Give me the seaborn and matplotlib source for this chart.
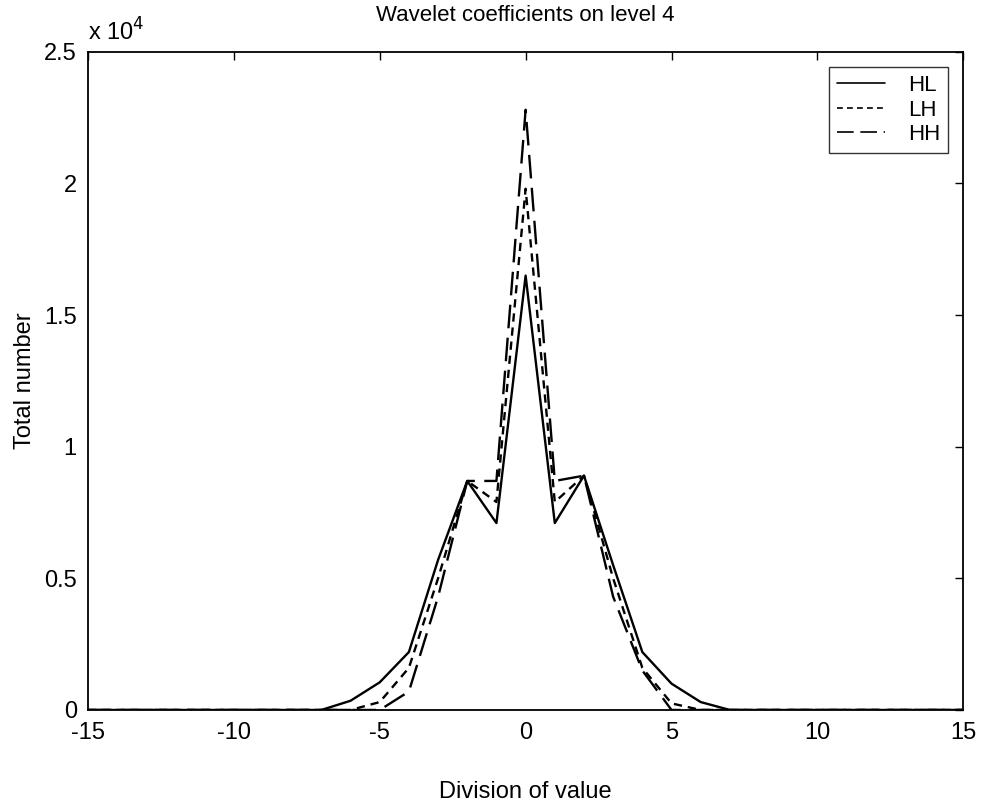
import numpy as np
import pandas as pd
import seaborn as sns
import matplotlib
matplotlib.use("Agg")
import matplotlib.pyplot as plt

sns.set_theme(style="white")
plt.rcParams['font.family'] = ['Liberation Sans', 'DejaVu Sans']
plt.rcParams['text.color'] = 'black'
plt.rcParams['axes.labelcolor'] = 'black'

x_values = [-15, -14, -13, -12, -11, -10, -9, -8, -7, -6, -5, -4, -3, -2, -1, 0,
            1, 2, 3, 4, 5, 6, 7, 8, 9, 10, 11, 12, 13, 14, 15]
hl_values = [0, 0, 0, 0, 0, 0, 0, 0, 0, 350, 1050, 2200, 5700, 8700, 7100, 16500,
             7100, 8900, 5500, 2200, 1000, 300, 0, 0, 0, 0, 0, 0, 0, 0, 0]
lh_values = [0, 0, 0, 0, 0, 0, 0, 0, 0, 0, 300, 1600, 5000, 8700, 7900, 19800,
             7900, 8900, 5000, 1600, 250, 0, 0, 0, 0, 0, 0, 0, 0, 0, 0]
hh_values = [0, 0, 0, 0, 0, 0, 0, 0, 0, 0, 0, 700, 4300, 8700, 8700, 22800,
             8700, 8900, 4300, 1500, 0, 0, 0, 0, 0, 0, 0, 0, 0, 0, 0]
series_names = ["HL", "LH", "HH"]

df = pd.DataFrame({
    "x": x_values * 3,
    "y": hl_values + lh_values + hh_values,
    "series": sum([[n] * len(x_values) for n in series_names], []),
})

fig = plt.figure(figsize=(9.88, 8.10), dpi=100)
ax = fig.add_axes([0.089, 0.1235, 0.886, 0.8125])

styles = {"HL": "-", "LH": (0, (3.5, 2.5)), "HH": (0, (10, 4))}
for name in series_names:
    sub = df[df["series"] == name]
    sns.lineplot(data=sub, x="x", y="y", ax=ax, color="black", linewidth=1.7,
                 label=name, estimator=None, sort=False)
for line, name in zip(ax.get_lines(), series_names):
    line.set_linestyle(styles[name])

ax.set_xlim(-15, 15)
ax.set_ylim(0, 25000)
ax.set_xticks([-15, -10, -5, 0, 5, 10, 15])
ax.set_yticks([0, 5000, 10000, 15000, 20000, 25000])
ax.set_yticklabels(["0", "0.5", "1", "1.5", "2", "2.5"])
ax.set_xticklabels(["-15", "-10", "-5", "0", "5", "10", "15"])
ax.tick_params(direction="in", length=6, width=1, top=True, right=True,
               labelsize=17, colors="black", labelcolor="black")
ax.tick_params(axis="x", pad=9)
ax.tick_params(axis="y", pad=8)
for s in ax.spines.values():
    s.set_color("black")
    s.set_linewidth(1.3)
ax.text(0.0, 1.01, r"x 10$^4$", transform=ax.transAxes, fontsize=17,
        ha="left", va="bottom", color="black")
ax.set_title("Wavelet coefficients on level 4", fontsize=16, pad=22, color="black")
ax.set_xlabel("Division of value", fontsize=17, labelpad=26, color="black")
ax.set_ylabel("Total number", fontsize=17, labelpad=6, color="black")

leg = ax.legend(loc="upper right", fontsize=16, frameon=True, fancybox=False,
                edgecolor="black", handlelength=2.2, borderaxespad=0.7,
                labelspacing=0.15, handletextpad=1.0, borderpad=0.35)
leg.get_frame().set_linewidth(1.0)
for t in leg.get_texts():
    t.set_color("black")
for h in leg.get_lines():
    h.set_color("black")
    h.set_linewidth(1.2)

fig.savefig("out.png", dpi=100, facecolor="white")
